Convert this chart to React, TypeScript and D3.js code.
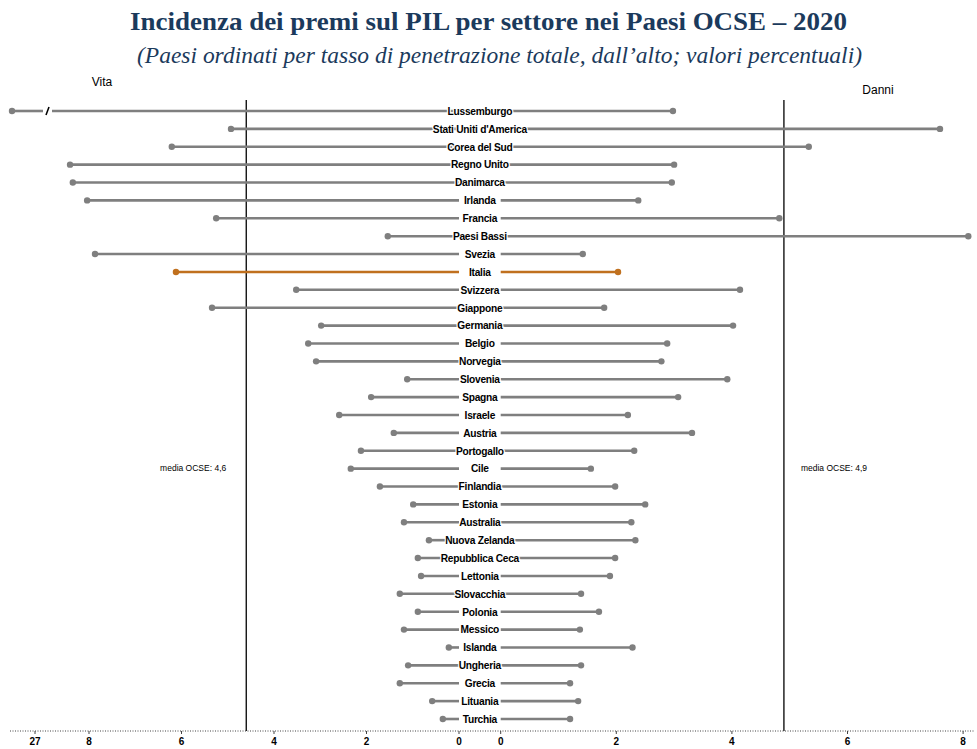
import React from "react";
import * as d3 from "d3";

const countries = [
  "Lussemburgo", "Stati Uniti d'America", "Corea del Sud", "Regno Unito", "Danimarca",
  "Irlanda", "Francia", "Paesi Bassi", "Svezia", "Italia", "Svizzera", "Giappone",
  "Germania", "Belgio", "Norvegia", "Slovenia", "Spagna", "Israele", "Austria",
  "Portogallo", "Cile", "Finlandia", "Estonia", "Australia", "Nuova Zelanda",
  "Repubblica Ceca", "Lettonia", "Slovacchia", "Polonia", "Messico", "Islanda",
  "Ungheria", "Grecia", "Lituania", "Turchia",
];

const vita = [
  27.5, 4.93, 6.21, 8.41, 8.35, 8.04, 5.25, 1.54, 7.87, 6.12, 3.52, 5.34,
  2.98, 3.26, 3.09, 1.12, 1.9, 2.59, 1.41, 2.12, 2.34, 1.71, 0.99, 1.19, 0.65,
  0.89, 0.82, 1.28, 0.89, 1.19, 0.22, 1.1, 1.28, 0.58, 0.35,
];

const danni = [
  2.98, 7.6, 5.33, 3.0, 2.96, 2.38, 4.82, 8.09, 1.42, 2.03, 4.14, 1.79,
  4.02, 2.88, 2.78, 3.92, 3.07, 2.2, 3.31, 2.31, 1.56, 1.98, 2.5, 2.26, 2.33,
  1.98, 1.89, 1.39, 1.7, 1.37, 2.28, 1.39, 1.2, 1.34, 1.2,
];

const vitaTicks = [27, 8, 6, 4, 2, 0];
const danniTicks = [0, 2, 4, 6, 8];
const mediaVita = 4.6;
const mediaDanni = 4.9;
const highlight = "Italia";

const W = 977;
const H = 749;

export default function App() {
  // Vita: reversed axis with a break between ~9 and 27
  const xL = d3.scaleLinear().domain([0, 9, 27, 28]).range([459, 42.75, 35, -11]);
  const xR = d3.scaleLinear().domain([0, 8]).range([500.7, 963.1]);
  const y = d3.scalePoint<string>().domain(countries).range([111, 719]);

  const grey = "#7f7f7f";
  const orange = "#C0701E";
  const axisY = 731;
  const labelX = (xL(0) + xR(0)) / 2;

  return (
    <svg
      width={W}
      height={H}
      style={{ position: "absolute", left: 0, top: 0, background: "#fff" }}
      fontFamily="Arial, 'Liberation Sans', sans-serif"
    >
      <text x={488.5} y={30} textAnchor="middle" fontFamily="'Liberation Serif', 'DejaVu Serif', serif"
        fontWeight="bold" fontSize={25.5} fill="#1B3A5C" textLength={717} lengthAdjust="spacingAndGlyphs">
        Incidenza dei premi sul PIL per settore nei Paesi OCSE – 2020
      </text>
      <text x={499.5} y={63} textAnchor="middle" fontFamily="'Liberation Serif', 'DejaVu Serif', serif"
        fontStyle="italic" fontSize={22.5} fill="#1B3A5C" textLength={725} lengthAdjust="spacingAndGlyphs">
        (Paesi ordinati per tasso di penetrazione totale, dall’alto; valori percentuali)
      </text>

      <text x={102} y={86} textAnchor="middle" fontSize={12} fill="#000">Vita</text>
      <text x={878} y={94} textAnchor="middle" fontSize={12} fill="#000">Danni</text>

      {/* mean lines */}
      <line x1={xL(mediaVita)} x2={xL(mediaVita)} y1={100} y2={axisY} stroke="#000" strokeWidth={1.3} />
      <line x1={xR(mediaDanni)} x2={xR(mediaDanni)} y1={100} y2={axisY} stroke="#000" strokeWidth={1.3} />
      <text x={xL(mediaVita) - 20} y={471} textAnchor="end" fontSize={8.5} fill="#000">
        {`media OCSE: ${String(mediaVita).replace(".", ",")}`}
      </text>
      <text x={xR(mediaDanni) + 17} y={471} textAnchor="start" fontSize={8.5} fill="#000">
        {`media OCSE: ${String(mediaDanni).replace(".", ",")}`}
      </text>

      {/* dumbbells */}
      {countries.map((c, i) => {
        const yy = y(c)!;
        const col = c === highlight ? orange : grey;
        const lx = xL(vita[i]);
        const rx = xR(danni[i]);
        const broken = vita[i] > 9;
        return (
          <g key={c}>
            {broken ? (
              <>
                <line x1={lx} x2={43} y1={yy} y2={yy} stroke={col} strokeWidth={2.6} />
                <line x1={52} x2={xL(0)} y1={yy} y2={yy} stroke={col} strokeWidth={2.6} />
                <line x1={46} x2={49} y1={yy + 4} y2={yy - 4} stroke="#000" strokeWidth={1.6} />
              </>
            ) : (
              <line x1={lx} x2={xL(0)} y1={yy} y2={yy} stroke={col} strokeWidth={2.6} />
            )}
            <line x1={xR(0)} x2={rx} y1={yy} y2={yy} stroke={col} strokeWidth={2.6} />
            <circle cx={lx} cy={yy} r={3.2} fill={col} />
            <circle cx={rx} cy={yy} r={3.2} fill={col} />
            <text x={labelX} y={yy + 3.8} textAnchor="middle" fontSize={10.2} fontWeight="bold"
              letterSpacing={-0.25} fill="#000" stroke="#fff" strokeWidth={2.4}
              style={{ paintOrder: "stroke" }}>
              {c}
            </text>
          </g>
        );
      })}

      {/* axis */}
      <line x1={10} x2={975} y1={axisY} y2={axisY} stroke="#444" strokeWidth={1} strokeDasharray="1,1.5" />
      {vitaTicks.map((t) => (
        <g key={"l" + t}>
          <line x1={xL(t)} x2={xL(t)} y1={axisY} y2={axisY + 3} stroke="#444" />
          <text x={xL(t)} y={745} textAnchor="middle" fontSize={10} fontWeight="bold">{t}</text>
        </g>
      ))}
      {danniTicks.map((t) => (
        <g key={"r" + t}>
          <line x1={xR(t)} x2={xR(t)} y1={axisY} y2={axisY + 3} stroke="#444" />
          <text x={xR(t)} y={745} textAnchor="middle" fontSize={10} fontWeight="bold">{t}</text>
        </g>
      ))}
    </svg>
  );
}
